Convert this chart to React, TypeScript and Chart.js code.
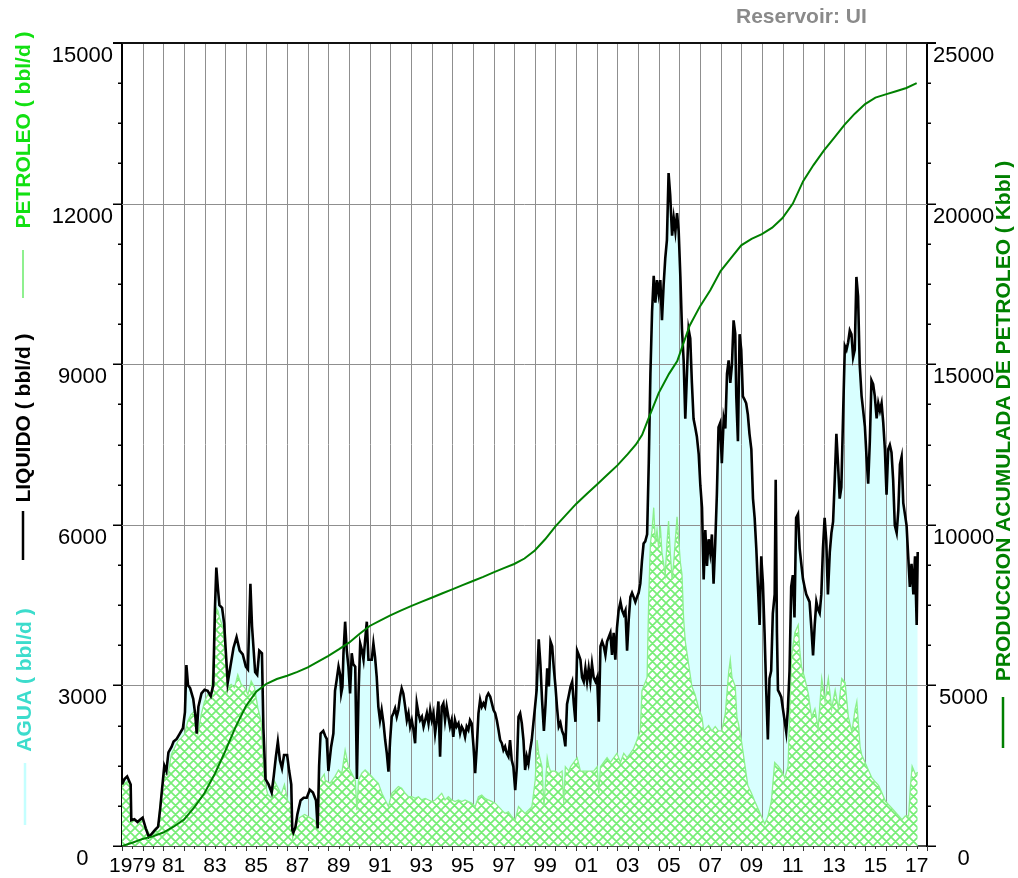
import React, { useEffect, useRef } from 'react';
import { Chart, registerables } from 'chart.js';

Chart.register(...registerables);

// ---------- DATA (decimal year, value) ----------
const LIQUIDO: [number, number][] = [
  [1979.0, 1150], [1979.12, 1250], [1979.25, 1300], [1979.42, 1150], [1979.45, 480], [1979.6, 500], [1979.75, 450], [1979.9, 500],
  [1980.0, 530], [1980.15, 330], [1980.3, 170], [1980.45, 230], [1980.6, 300], [1980.75, 360], [1980.85, 700], [1980.95, 1100],
  [1981.05, 1500], [1981.15, 1400], [1981.25, 1750], [1981.4, 1850], [1981.5, 1950], [1981.65, 2000], [1981.8, 2100], [1981.95, 2200],
  [1982.05, 2500], [1982.12, 3380], [1982.2, 3000], [1982.3, 2950], [1982.45, 2750], [1982.55, 2450], [1982.62, 2100], [1982.7, 2600],
  [1982.85, 2850], [1983.0, 2920], [1983.15, 2900], [1983.3, 2800], [1983.42, 3000], [1983.5, 4400], [1983.57, 5200], [1983.65, 4800],
  [1983.72, 4500], [1983.85, 4450], [1983.95, 4150], [1984.05, 3500], [1984.12, 3050], [1984.25, 3350], [1984.4, 3700], [1984.55, 3900],
  [1984.7, 3650], [1984.85, 3580], [1985.0, 3350], [1985.1, 3300], [1985.22, 4900], [1985.3, 4100], [1985.45, 3250], [1985.55, 3200],
  [1985.65, 3650], [1985.78, 3600], [1985.85, 2200], [1985.95, 1250], [1986.1, 1150], [1986.25, 1000], [1986.35, 1300], [1986.45, 1650],
  [1986.55, 1950], [1986.65, 1600], [1986.75, 1450], [1986.85, 1700], [1987.0, 1700], [1987.1, 1400], [1987.2, 1150], [1987.25, 300],
  [1987.3, 250], [1987.4, 350], [1987.5, 600], [1987.65, 850], [1987.8, 900], [1987.95, 900], [1988.1, 1050], [1988.25, 1000],
  [1988.4, 850], [1988.48, 330], [1988.55, 1500], [1988.62, 2100], [1988.75, 2150], [1988.85, 2050], [1988.92, 2000], [1989.0, 1400],
  [1989.13, 1850], [1989.24, 2100], [1989.32, 2900], [1989.4, 3100], [1989.49, 3350], [1989.57, 3200], [1989.62, 2850], [1989.68, 2975],
  [1989.73, 3600], [1989.81, 4190], [1989.89, 3650], [1989.97, 3350], [1990.05, 2850], [1990.13, 3600], [1990.2, 3400], [1990.3, 3350],
  [1990.38, 1250], [1990.46, 2850], [1990.54, 3780], [1990.62, 3660], [1990.7, 3480], [1990.78, 3850], [1990.86, 4190], [1990.94, 3480],
  [1991.1, 3480], [1991.18, 3780], [1991.26, 3530], [1991.34, 3160], [1991.42, 2600], [1991.5, 2350], [1991.58, 2540], [1991.67, 2290],
  [1991.75, 1980], [1991.83, 1730], [1991.91, 1390], [1991.99, 1980], [1992.07, 2415], [1992.15, 2480], [1992.23, 2570], [1992.31, 2415],
  [1992.39, 2540], [1992.47, 2790], [1992.55, 2945], [1992.63, 2850], [1992.72, 2600], [1992.8, 2350], [1992.88, 2480], [1992.96, 2230],
  [1993.04, 2350], [1993.12, 2170], [1993.2, 1920], [1993.28, 2665], [1993.36, 2480], [1993.44, 2350], [1993.53, 2415], [1993.61, 2230],
  [1993.69, 2350], [1993.77, 2480], [1993.85, 2290], [1993.93, 2540], [1994.01, 2350], [1994.09, 2480], [1994.17, 2105], [1994.25, 2350],
  [1994.33, 2700], [1994.41, 1670], [1994.49, 2600], [1994.57, 2665], [1994.65, 2350], [1994.73, 2600], [1994.81, 2415], [1994.89, 2230],
  [1994.97, 2350], [1995.05, 2040], [1995.13, 2350], [1995.21, 2230], [1995.3, 2290], [1995.38, 2105], [1995.46, 2230], [1995.54, 2170],
  [1995.62, 2040], [1995.7, 2230], [1995.78, 2170], [1995.86, 2350], [1995.94, 2290], [1996.03, 1855], [1996.11, 1360], [1996.19, 1855],
  [1996.27, 2480], [1996.35, 2730], [1996.43, 2600], [1996.51, 2665], [1996.59, 2600], [1996.67, 2790], [1996.75, 2850], [1996.84, 2790],
  [1996.92, 2665], [1997.0, 2540], [1997.08, 2480], [1997.16, 2350], [1997.24, 2170], [1997.32, 1980], [1997.4, 1920], [1997.48, 1790],
  [1997.56, 1855], [1997.64, 1730], [1997.72, 1670], [1997.8, 1980], [1997.88, 1605], [1997.96, 1480], [1998.05, 1045], [1998.13, 1480],
  [1998.21, 2415], [1998.29, 2480], [1998.37, 2290], [1998.45, 1980], [1998.53, 1420], [1998.61, 1670], [1998.69, 1540], [1998.77, 1790],
  [1998.85, 1980], [1998.93, 2290], [1999.01, 2600], [1999.09, 2915], [1999.19, 3860], [1999.27, 3400], [1999.35, 2730], [1999.44, 2150],
  [1999.52, 2650], [1999.6, 3320], [1999.68, 2980], [1999.76, 3820], [1999.84, 3730], [1999.92, 3320], [2000.0, 2980], [2000.08, 2570],
  [2000.16, 2230], [2000.24, 2300], [2000.32, 2150], [2000.4, 2070], [2000.48, 1860], [2000.56, 2650], [2000.65, 2820], [2000.73, 2980],
  [2000.81, 3070], [2000.89, 2650], [2000.97, 2320], [2001.05, 3650], [2001.13, 3570], [2001.21, 3480], [2001.29, 3150], [2001.37, 3070],
  [2001.45, 3320], [2001.53, 3070], [2001.61, 3320], [2001.69, 3070], [2001.77, 3400], [2001.85, 3150], [2001.94, 3070], [2002.02, 3150],
  [2002.1, 2320], [2002.18, 3730], [2002.26, 3820], [2002.34, 3730], [2002.42, 3570], [2002.5, 3820], [2002.58, 3900], [2002.66, 3980],
  [2002.74, 3570], [2002.82, 3980], [2002.9, 3480], [2002.98, 4070], [2003.06, 4400], [2003.15, 4560], [2003.23, 4400], [2003.31, 4320],
  [2003.39, 4400], [2003.47, 3650], [2003.55, 4230], [2003.63, 4650], [2003.71, 4730], [2003.79, 4650], [2003.87, 4560], [2003.95, 4650],
  [2004.03, 4730], [2004.11, 4900], [2004.19, 5320], [2004.27, 5650], [2004.35, 5690], [2004.44, 5820], [2004.52, 7150], [2004.6, 8820],
  [2004.68, 9980], [2004.76, 10650], [2004.84, 10150], [2004.92, 10570], [2005.0, 10320], [2005.08, 10570], [2005.16, 9820], [2005.24, 10480],
  [2005.32, 10980], [2005.4, 11320], [2005.48, 12570], [2005.56, 12150], [2005.65, 11400], [2005.73, 11730], [2005.81, 11480], [2005.89, 11820],
  [2005.97, 11480], [2006.05, 10650], [2006.13, 9650], [2006.21, 9070], [2006.29, 7980], [2006.37, 8820], [2006.45, 9650], [2006.53, 9480],
  [2006.61, 8650], [2006.69, 7980], [2006.77, 7820], [2006.85, 7650], [2006.94, 7320], [2007.02, 6730], [2007.1, 6320], [2007.18, 4980],
  [2007.26, 5900], [2007.34, 5230], [2007.42, 5730], [2007.5, 5480], [2007.58, 5820], [2007.66, 4900], [2007.74, 5650], [2007.82, 6570],
  [2007.9, 7820], [2007.98, 7900], [2008.06, 7150], [2008.15, 7980], [2008.23, 7800], [2008.31, 8820], [2008.39, 9070], [2008.47, 8650],
  [2008.55, 8990], [2008.63, 9820], [2008.71, 9570], [2008.76, 8400], [2008.84, 7560], [2008.92, 9560], [2009.0, 9270], [2009.08, 8400],
  [2009.16, 8340], [2009.24, 8270], [2009.32, 8060], [2009.4, 7700], [2009.49, 7410], [2009.57, 6490], [2009.65, 6130], [2009.73, 5560],
  [2009.81, 4840], [2009.89, 4130], [2009.97, 5410], [2010.05, 4910], [2010.13, 3990], [2010.21, 2910], [2010.29, 1990], [2010.37, 3130],
  [2010.45, 3270], [2010.53, 4340], [2010.62, 4700], [2010.67, 6840], [2010.73, 3990], [2010.78, 2910], [2010.86, 2850], [2010.94, 2780],
  [2011.02, 2560], [2011.1, 2350], [2011.18, 2130], [2011.26, 2560], [2011.34, 3270], [2011.42, 4840], [2011.5, 5060], [2011.58, 4270],
  [2011.66, 6130], [2011.75, 6200], [2011.83, 5560], [2011.91, 5270], [2011.99, 4990], [2012.07, 4840], [2012.15, 4700], [2012.23, 4630],
  [2012.31, 4560], [2012.4, 4060], [2012.48, 3560], [2012.56, 4130], [2012.64, 4560], [2012.72, 4420], [2012.8, 4350], [2012.88, 4700],
  [2012.96, 5560], [2013.04, 6130], [2013.12, 5700], [2013.2, 4700], [2013.29, 5490], [2013.37, 5850], [2013.45, 6060], [2013.53, 6840],
  [2013.61, 7700], [2013.69, 7130], [2013.77, 6490], [2013.85, 6700], [2013.94, 8130], [2014.02, 9340], [2014.1, 9270], [2014.18, 9410],
  [2014.26, 9630], [2014.34, 9560], [2014.42, 9130], [2014.5, 9270], [2014.58, 10630], [2014.66, 10270], [2014.74, 8990], [2014.83, 8410],
  [2014.91, 8130], [2014.99, 7840], [2015.07, 7270], [2015.15, 6770], [2015.23, 7560], [2015.31, 8700], [2015.39, 8630], [2015.47, 8410],
  [2015.56, 7990], [2015.64, 8270], [2015.72, 8130], [2015.8, 8270], [2015.88, 7910], [2015.96, 7410], [2016.04, 6560], [2016.12, 7410],
  [2016.2, 7490], [2016.28, 7350], [2016.36, 6840], [2016.44, 5990], [2016.53, 5850], [2016.61, 6270], [2016.69, 7130], [2016.77, 7270],
  [2016.85, 6410], [2016.93, 6200], [2017.01, 5990], [2017.09, 5410], [2017.17, 4840], [2017.25, 5270], [2017.34, 4700], [2017.42, 5410],
  [2017.5, 4130], [2017.55, 5490],
];

const PETROLEO: [number, number][] = [
  [1979.0, 1150], [1979.29, 1210], [1979.42, 1150], [1979.45, 470], [1979.77, 470], [1980.0, 470], [1980.25, 280], [1980.42, 155],
  [1980.74, 340], [1980.9, 965], [1981.06, 1340], [1981.23, 1340], [1981.39, 1710], [1981.55, 1835], [1981.71, 1960], [1981.87, 2020],
  [1982.03, 2085], [1982.19, 2335], [1982.35, 2460], [1982.52, 2520], [1982.68, 2100], [1982.84, 2460], [1983.0, 2700], [1983.16, 2830],
  [1983.32, 2770], [1983.48, 3830], [1983.56, 4450], [1983.65, 4390], [1983.73, 4260], [1983.89, 4080], [1983.97, 3830], [1984.13, 2960],
  [1984.29, 3020], [1984.45, 2960], [1984.61, 3200], [1984.77, 3020], [1984.94, 2960], [1985.1, 2830], [1985.26, 3080], [1985.42, 2960],
  [1985.58, 2580], [1985.74, 2335], [1985.9, 1210], [1986.06, 965], [1986.23, 900], [1986.39, 1210], [1986.55, 1090], [1986.71, 965],
  [1986.87, 1150], [1987.03, 840], [1987.19, 780], [1987.27, 150], [1987.37, 340], [1987.6, 530], [1987.85, 590], [1988.1, 530],
  [1988.35, 470], [1988.48, 300], [1988.56, 1210], [1988.8, 1340], [1988.84, 1230], [1989.08, 1170], [1989.32, 1300], [1989.49, 1420],
  [1989.65, 1360], [1989.81, 1790], [1989.97, 1480], [1990.13, 1360], [1990.3, 1230], [1990.38, 670], [1990.46, 1230], [1990.62, 1360],
  [1990.78, 1420], [1990.94, 1360], [1991.1, 1300], [1991.26, 1230], [1991.42, 1170], [1991.59, 985], [1991.75, 860], [1991.91, 735],
  [1992.07, 985], [1992.23, 1045], [1992.39, 1110], [1992.55, 1080], [1992.72, 985], [1992.88, 920], [1993.04, 920], [1993.2, 890],
  [1993.36, 920], [1993.52, 860], [1993.69, 890], [1993.85, 860], [1994.01, 830], [1994.17, 860], [1994.33, 920], [1994.49, 985],
  [1994.65, 860], [1994.81, 920], [1994.98, 860], [1995.14, 830], [1995.3, 860], [1995.46, 830], [1995.62, 860], [1995.78, 830],
  [1995.95, 800], [1996.11, 735], [1996.27, 920], [1996.43, 950], [1996.59, 890], [1996.75, 860], [1996.92, 830], [1997.08, 800],
  [1997.24, 735], [1997.4, 670], [1997.56, 610], [1997.72, 640], [1997.88, 550], [1998.05, 485], [1998.21, 735], [1998.37, 670],
  [1998.53, 610], [1998.69, 670], [1998.86, 735], [1999.02, 1230], [1999.11, 1980], [1999.19, 1730], [1999.35, 1480], [1999.44, 730],
  [1999.6, 1650], [1999.68, 1480], [1999.76, 1400], [2000.0, 1400], [2000.16, 1350], [2000.32, 1400], [2000.4, 800], [2000.48, 1480],
  [2000.65, 1400], [2000.73, 1480], [2001.05, 1650], [2001.21, 1400], [2001.53, 1400], [2001.85, 1400], [2002.02, 1480], [2002.1, 980],
  [2002.18, 1480], [2002.5, 1650], [2002.66, 1560], [2002.98, 1730], [2003.15, 1560], [2003.31, 1730], [2003.47, 1650], [2003.63, 1730],
  [2003.79, 1820], [2003.95, 1980], [2004.11, 2150], [2004.19, 2900], [2004.27, 2980], [2004.44, 3150], [2004.52, 4650], [2004.6, 5650],
  [2004.68, 5900], [2004.76, 6320], [2004.84, 5650], [2004.92, 5900], [2005.0, 5570], [2005.08, 5980], [2005.16, 5480], [2005.32, 5070],
  [2005.4, 5650], [2005.48, 6070], [2005.56, 5500], [2005.65, 4980], [2005.73, 5300], [2005.81, 5730], [2005.89, 6150], [2005.97, 5730],
  [2006.05, 5300], [2006.13, 5070], [2006.21, 4230], [2006.29, 3820], [2006.45, 3400], [2006.61, 2980], [2006.77, 2820], [2006.94, 2570],
  [2007.1, 2400], [2007.18, 2150], [2007.42, 2250], [2007.58, 2150], [2007.74, 2230], [2007.9, 2150], [2008.06, 2150], [2008.23, 2480],
  [2008.39, 3240], [2008.47, 3480], [2008.55, 3150], [2008.71, 2980], [2008.79, 2400], [2008.87, 2270], [2009.0, 1990], [2009.16, 1560],
  [2009.32, 1130], [2009.49, 990], [2009.65, 840], [2009.81, 700], [2009.97, 560], [2010.14, 410], [2010.3, 560], [2010.46, 840],
  [2010.62, 1560], [2010.79, 1490], [2010.95, 1410], [2011.11, 1270], [2011.27, 1490], [2011.35, 2560], [2011.44, 3560], [2011.6, 3990],
  [2011.76, 4130], [2011.84, 3630], [2011.92, 3350], [2012.08, 3130], [2012.25, 2840], [2012.41, 2410], [2012.57, 2560], [2012.73, 2200],
  [2012.9, 3130], [2013.06, 2700], [2013.22, 3130], [2013.38, 2560], [2013.55, 2910], [2013.71, 2560], [2013.87, 3130], [2014.03, 3060],
  [2014.19, 2410], [2014.36, 2130], [2014.52, 2560], [2014.6, 2700], [2014.76, 1840], [2014.84, 1700], [2015.0, 1560], [2015.17, 1410],
  [2015.33, 1270], [2015.49, 1200], [2015.66, 1130], [2015.82, 990], [2015.98, 840], [2016.14, 770], [2016.31, 700], [2016.47, 630],
  [2016.63, 560], [2016.79, 490], [2016.95, 560], [2017.11, 560], [2017.2, 1130], [2017.28, 1490], [2017.44, 1340], [2017.55, 1380],
];

const ACUMULADA: [number, number][] = [
  [1979.0, 0], [1979.5, 100], [1980.0, 220], [1980.5, 300], [1981.0, 420], [1981.5, 600], [1982.0, 820], [1982.5, 1200],
  [1983.0, 1650], [1983.5, 2250], [1984.0, 2950], [1984.5, 3700], [1985.0, 4350], [1985.5, 4800], [1986.0, 5050], [1986.5, 5200],
  [1987.0, 5300], [1987.5, 5420], [1988.0, 5560], [1988.5, 5740], [1989.0, 5920], [1989.5, 6120], [1990.0, 6330], [1990.5, 6600],
  [1991.0, 6850], [1991.5, 7020], [1992.0, 7180], [1992.5, 7330], [1993.0, 7470], [1993.5, 7600], [1994.0, 7730], [1994.5, 7860],
  [1995.0, 7990], [1995.5, 8120], [1996.0, 8250], [1996.5, 8380], [1997.0, 8520], [1997.5, 8650], [1998.0, 8780], [1998.5, 8950],
  [1999.0, 9200], [1999.5, 9550], [2000.0, 9950], [2000.5, 10300], [2001.0, 10650], [2001.5, 10950], [2002.0, 11250], [2002.5, 11550],
  [2003.0, 11850], [2003.5, 12200], [2003.9, 12500], [2004.2, 12800], [2004.5, 13300], [2005.0, 14100], [2005.5, 14700], [2005.9, 15100],
  [2006.5, 16200], [2007.0, 16800], [2007.5, 17300], [2008.0, 17900], [2008.5, 18300], [2009.0, 18700], [2009.5, 18900], [2010.0, 19050],
  [2010.5, 19250], [2011.0, 19550], [2011.5, 20000], [2012.0, 20700], [2012.5, 21200], [2013.0, 21650], [2013.5, 22050], [2014.0, 22450],
  [2014.5, 22800], [2015.0, 23100], [2015.5, 23300], [2016.0, 23400], [2016.5, 23500], [2017.0, 23600], [2017.5, 23750],
];

// ---------- AXES / LABELS ----------
const X_MIN = 1979;
const X_MAX = 2018;
const X_LABEL_YEARS = [1979, 1981, 1983, 1985, 1987, 1989, 1991, 1993, 1995, 1997, 1999, 2001, 2003, 2005, 2007, 2009, 2011, 2013, 2015, 2017];
const X_LABELS = ['1979', '81', '83', '85', '87', '89', '91', '93', '95', '97', '99', '01', '03', '05', '07', '09', '11', '13', '15', '17'];
const LEFT_MAX = 15000;
const LEFT_MAJOR = 3000;
const LEFT_MINOR = 750;
const RIGHT_MAX = 25000;
const RIGHT_MAJOR = 5000;
const RIGHT_MINOR = 1250;
const TITLE = 'Reservoir: UI';
const LEFT_TITLES = ['PETROLEO ( bbl/d )', 'LIQUIDO ( bbl/d )', 'AGUA ( bbl/d )'];
const RIGHT_TITLE = 'PRODUCCION ACUMULADA DE PETROLEO ( Kbbl )';

const FONT = '"Liberation Sans", Arial, sans-serif';

function range(a: number, b: number, s: number): number[] {
  const out: number[] = [];
  for (let v = a; v <= b + 1e-9; v += s) out.push(Math.round(v * 1000) / 1000);
  return out;
}

function makeHatch(): CanvasPattern | string {
  const n = 9;
  const c = document.createElement('canvas');
  c.width = n;
  c.height = n;
  const g = c.getContext('2d');
  if (!g) return '#90ee90';
  g.fillStyle = '#ffffff';
  g.fillRect(0, 0, n, n);
  g.strokeStyle = '#76ee76';
  g.lineWidth = 1.7;
  g.beginPath();
  for (const o of [-n, 0, n]) {
    g.moveTo(o, 0);
    g.lineTo(o + n, n);
    g.moveTo(o, n);
    g.lineTo(o + n, 0);
  }
  g.stroke();
  const p = g.createPattern(c, 'repeat');
  return p || '#90ee90';
}

function vText(ctx: CanvasRenderingContext2D, text: string, x: number, y: number, color: string) {
  ctx.save();
  ctx.translate(x, y);
  ctx.rotate(-Math.PI / 2);
  ctx.textAlign = 'center';
  ctx.textBaseline = 'middle';
  ctx.fillStyle = color;
  ctx.fillText(text, 0, 0);
  ctx.restore();
}

function vLine(ctx: CanvasRenderingContext2D, x: number, y1: number, y2: number, color: string, w: number) {
  ctx.save();
  ctx.strokeStyle = color;
  ctx.lineWidth = w;
  ctx.beginPath();
  ctx.moveTo(x, y1);
  ctx.lineTo(x, y2);
  ctx.stroke();
  ctx.restore();
}

const gridPlugin = {
  id: 'underHatchGrid',
  afterDatasetDraw(chart: any, args: any) {
    if (args.index !== 0) return;
    const { ctx, chartArea: a, scales } = chart;
    const xs = scales.x;
    const ys = scales.y;
    ctx.save();
    ctx.beginPath();
    ctx.rect(a.left, a.top, a.right - a.left, a.bottom - a.top);
    ctx.clip();
    ctx.strokeStyle = '#8f8f8f';
    ctx.lineWidth = 1;
    ctx.beginPath();
    for (let yr = X_MIN + 1; yr < X_MAX; yr++) {
      const px = Math.round(xs.getPixelForValue(yr)) + 0.5;
      ctx.moveTo(px, a.top);
      ctx.lineTo(px, a.bottom);
    }
    for (let v = LEFT_MAJOR; v < LEFT_MAX; v += LEFT_MAJOR) {
      const py = Math.round(ys.getPixelForValue(v)) + 0.5;
      ctx.moveTo(a.left, py);
      ctx.lineTo(a.right, py);
    }
    ctx.stroke();
    ctx.restore();
  },
};

const decorPlugin = {
  id: 'decor',
  afterDraw(chart: any) {
    const { ctx, chartArea: a, scales } = chart;
    const ys = scales.y;
    const y2 = scales.y2;
    const xs = scales.x;
    ctx.save();
    // top frame line
    ctx.strokeStyle = '#111';
    ctx.lineWidth = 2;
    ctx.beginPath();
    ctx.moveTo(a.left - 9, a.top);
    ctx.lineTo(a.right + 9, a.top);
    ctx.stroke();
    // left / right ticks
    ctx.lineWidth = 1.5;
    ctx.strokeStyle = '#000';
    ctx.beginPath();
    for (let v = 0; v <= LEFT_MAX; v += LEFT_MINOR) {
      const py = Math.round(ys.getPixelForValue(v)) + 0.25;
      const len = v % LEFT_MAJOR === 0 ? 9 : 4;
      ctx.moveTo(a.left - len, py);
      ctx.lineTo(a.left, py);
    }
    for (let v = 0; v <= RIGHT_MAX; v += RIGHT_MINOR) {
      const py = Math.round(y2.getPixelForValue(v)) + 0.25;
      const len = v % RIGHT_MAJOR === 0 ? 9 : 4;
      ctx.moveTo(a.right, py);
      ctx.lineTo(a.right + len, py);
    }
    ctx.stroke();
    // bottom ticks
    ctx.strokeStyle = '#333';
    ctx.lineWidth = 1;
    ctx.beginPath();
    for (let t = X_MIN; t <= X_MAX + 1e-9; t += 0.5) {
      const px = Math.round(xs.getPixelForValue(t)) + 0.5;
      const len = Number.isInteger(t) ? 5 : 3;
      ctx.moveTo(px, a.bottom);
      ctx.lineTo(px, a.bottom + len);
    }
    ctx.stroke();

    // left axis titles + legend strokes
    ctx.font = `bold 21px ${FONT}`;
    vText(ctx, LEFT_TITLES[0], 24, 130, '#12e012');
    vLine(ctx, 23, 250, 298, '#8ff08f', 2);
    vText(ctx, LEFT_TITLES[1], 24, 418, '#000000');
    vLine(ctx, 23, 511, 560, '#000000', 2.5);
    vText(ctx, LEFT_TITLES[2], 25, 680, '#3cdccc');
    vLine(ctx, 25, 763, 825, '#c4ffff', 2.5);
    // right axis title
    vText(ctx, RIGHT_TITLE, 1004, 421, '#008000');
    vLine(ctx, 1003, 697, 748, '#008000', 2.5);
    // chart title
    ctx.font = `bold 21px ${FONT}`;
    ctx.fillStyle = '#8a8a8a';
    ctx.textAlign = 'left';
    ctx.textBaseline = 'middle';
    ctx.fillText(TITLE, 736, 17);
    ctx.restore();
  },
};

export default function App() {
  const ref = useRef<HTMLCanvasElement | null>(null);

  useEffect(() => {
    const canvas = ref.current;
    if (!canvas) return;
    const hatch = makeHatch();
    const toXY = (arr: [number, number][]) => arr.map(([x, y]) => ({ x, y }));
    const xLabelMap = new Map<number, string>();
    X_LABEL_YEARS.forEach((yr, i) => xLabelMap.set(yr + 0.5, X_LABELS[i]));

    const chart = new Chart(canvas, {
      type: 'line',
      data: {
        datasets: [
          {
            label: 'AGUA',
            data: toXY(LIQUIDO),
            yAxisID: 'y',
            borderColor: 'rgba(0,0,0,0)',
            borderWidth: 1,
            backgroundColor: '#d8ffff',
            fill: 'origin',
            pointRadius: 0,
            order: 4,
          },
          {
            label: 'PETROLEO',
            data: toXY(PETROLEO),
            yAxisID: 'y',
            borderColor: '#8cf08c',
            borderWidth: 1.3,
            backgroundColor: hatch as any,
            fill: 'origin',
            pointRadius: 0,
            order: 3,
          },
          {
            label: 'LIQUIDO',
            data: toXY(LIQUIDO),
            yAxisID: 'y',
            borderColor: '#000000',
            borderWidth: 2.6,
            fill: false,
            pointRadius: 0,
            order: 2,
          },
          {
            label: 'PRODUCCION ACUMULADA',
            data: toXY(ACUMULADA),
            yAxisID: 'y2',
            borderColor: '#008000',
            borderWidth: 2,
            fill: false,
            pointRadius: 0,
            order: 1,
          },
        ],
      },
      options: {
        animation: false,
        responsive: false,
        devicePixelRatio: 1,
        layout: { padding: { top: 43, left: 0, right: 0, bottom: 0 } },
        elements: { line: { tension: 0 }, point: { radius: 0 } },
        plugins: {
          legend: { display: false },
          tooltip: { enabled: false },
          title: { display: false },
        },
        scales: {
          x: {
            type: 'linear',
            min: X_MIN,
            max: X_MAX,
            afterBuildTicks: (s: any) => {
              s.ticks = range(X_MIN, X_MAX, 0.5).map((v) => ({ value: v }));
            },
            afterFit: (s: any) => {
              s.height = 32;
            },
            grid: { drawOnChartArea: false, drawTicks: false },
            border: { display: true, color: '#4a4a4a', width: 2 },
            ticks: {
              autoSkip: false,
              maxRotation: 0,
              minRotation: 0,
              padding: 8,
              color: '#000',
              font: { family: FONT, size: 21 },
              callback: (v: any) => xLabelMap.get(Math.round(Number(v) * 10) / 10) ?? '',
            },
          },
          y: {
            type: 'linear',
            position: 'left',
            min: 0,
            max: LEFT_MAX,
            afterBuildTicks: (s: any) => {
              s.ticks = range(0, LEFT_MAX, LEFT_MAJOR).map((v) => ({ value: v }));
            },
            afterFit: (s: any) => {
              s.width = 122;
            },
            grid: { drawOnChartArea: false, drawTicks: false },
            border: { display: true, color: '#000', width: 2 },
            ticks: {
              autoSkip: false,
              crossAlign: 'center',
              padding: 9,
              labelOffset: 13,
              color: '#000',
              font: { family: FONT, size: 22 },
              callback: (v: any) => String(v),
            },
          },
          y2: {
            type: 'linear',
            position: 'right',
            min: 0,
            max: RIGHT_MAX,
            afterBuildTicks: (s: any) => {
              s.ticks = range(0, RIGHT_MAX, RIGHT_MAJOR).map((v) => ({ value: v }));
            },
            afterFit: (s: any) => {
              s.width = 91;
            },
            grid: { drawOnChartArea: false, drawTicks: false },
            border: { display: true, color: '#000', width: 2 },
            ticks: {
              autoSkip: false,
              crossAlign: 'center',
              padding: 6,
              labelOffset: 13,
              color: '#000',
              font: { family: FONT, size: 22 },
              callback: (v: any) => String(v),
            },
          },
        },
      },
      plugins: [gridPlugin, decorPlugin],
    } as any);

    return () => chart.destroy();
  }, []);

  return (
    <div style={{ position: 'absolute', left: 0, top: 0, width: 1018, height: 878, background: '#ffffff' }}>
      <canvas ref={ref} width={1018} height={878} style={{ display: 'block', width: 1018, height: 878 }} />
    </div>
  );
}
